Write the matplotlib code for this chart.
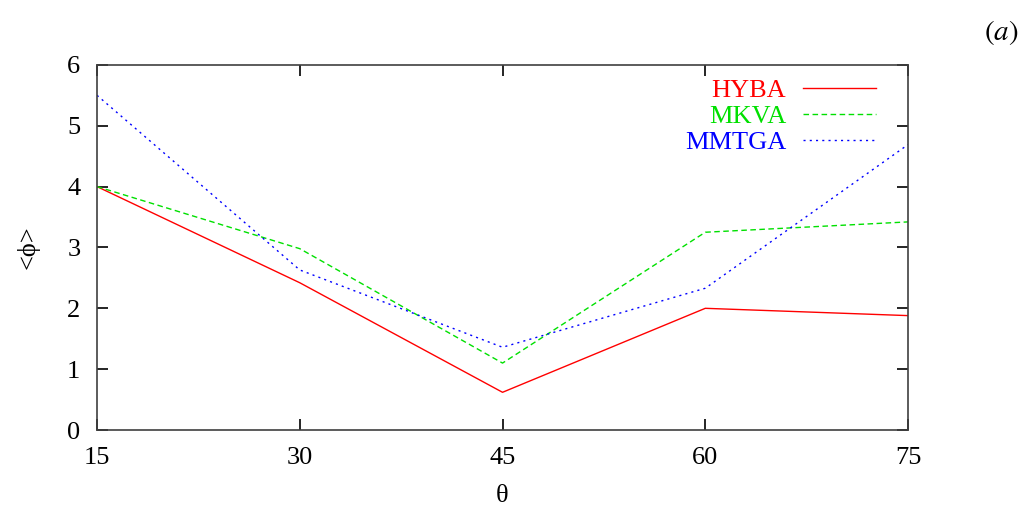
import matplotlib
matplotlib.use("Agg")
import matplotlib.pyplot as plt

# valeurs
theta = [15, 30, 45, 60, 75]
hyba = [4.0, 2.42, 0.62, 2.0, 1.88]
mkva = [4.0, 2.98, 1.10, 3.25, 3.42]
mmtga = [5.5, 2.63, 1.36, 2.33, 4.69]

plt.rcParams['font.family'] = ['Liberation Serif', 'DejaVu Serif']
plt.rcParams['mathtext.fontset'] = 'stix'

fig = plt.figure(figsize=(10.3, 5.15), dpi=100)
ax = fig.add_axes([0.0942, 0.165, 0.7874, 0.709])

ax.plot(theta, hyba, color='#ff0000', lw=1.0, label='HYBA')
ax.plot(theta, mkva, color='#00e000', lw=1.0, dashes=(4, 2.5), label='MKVA')
ax.plot(theta, mmtga, color='#0000ff', lw=1.0, dashes=(1.5, 3), label='MMTGA')

ax.set_xlim(15, 75)
ax.set_ylim(0, 6)
ax.set_xticks(theta)
ax.set_yticks(range(0, 7))
ax.tick_params(direction='in', length=8, width=1.2, top=True, right=True,
               labelsize=19, color='black')
ax.tick_params(axis='x', pad=12)
ax.tick_params(axis='y', pad=12)
for s in ax.spines.values():
    s.set_color('#404040')
    s.set_linewidth(1.2)

ax.set_xlabel('θ', fontsize=19, labelpad=12)
ax.set_ylabel('<ϕ>', fontsize=19, labelpad=20)

leg = ax.legend(loc='upper right', bbox_to_anchor=(0.9605, 0.963), frameon=False,
                markerfirst=False, fontsize=19, handlelength=2.75,
                handletextpad=0.65, labelspacing=0.1, borderaxespad=0.0,
                borderpad=0.0, labelcolor='linecolor')

fig.text(0.972, 0.937, r'$(a)$', fontsize=21, ha='center', va='center')

fig.savefig('out.png', dpi=100)
